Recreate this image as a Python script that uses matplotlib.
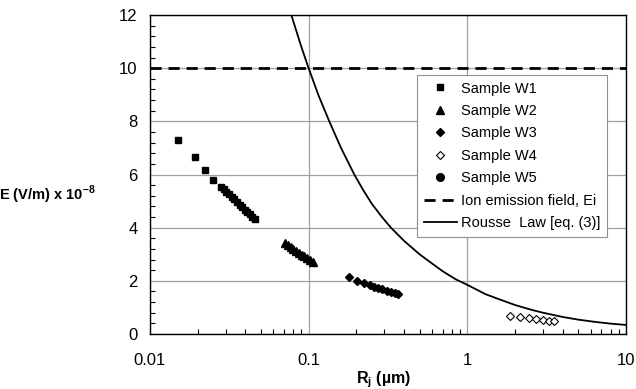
import matplotlib.pyplot as plt
from matplotlib.ticker import MultipleLocator, LogLocator, NullFormatter

plt.rcParams['font.family'] = ['Liberation Sans', 'DejaVu Sans']
plt.rcParams['mathtext.fontset'] = 'custom'
plt.rcParams['mathtext.bf'] = 'Liberation Sans:bold'
plt.rcParams['mathtext.rm'] = 'Liberation Sans'

# data (Rj in um, E in V/m x 1e-8)
w1_r = [0.0150, 0.0191, 0.0221, 0.0251, 0.0280, 0.0292, 0.0303, 0.0315, 0.0327, 0.0340,
        0.0353, 0.0367, 0.0380, 0.0395, 0.0410, 0.0425, 0.0440, 0.0457]
w1_e = [7.29, 6.64, 6.17, 5.79, 5.54, 5.44, 5.35, 5.25, 5.16, 5.06,
        4.97, 4.87, 4.78, 4.68, 4.59, 4.50, 4.40, 4.31]

w2_r = [0.0708, 0.0738, 0.0769, 0.0800, 0.0833, 0.0867, 0.0903, 0.0940, 0.0980, 0.1020, 0.1060]
w2_e = [3.41, 3.34, 3.27, 3.20, 3.13, 3.06, 2.99, 2.92, 2.85, 2.78, 2.71]

w3_r = [0.179, 0.202, 0.222, 0.242, 0.259, 0.275, 0.292, 0.312, 0.330, 0.350, 0.367]
w3_e = [2.13, 1.99, 1.90, 1.83, 1.78, 1.73, 1.68, 1.63, 1.58, 1.55, 1.51]

w4_r = [1.87, 2.16, 2.46, 2.73, 3.01, 3.27, 3.52]
w4_e = [0.68, 0.63, 0.59, 0.55, 0.53, 0.50, 0.49]

w5_r = []
w5_e = []

ion_field = 10

# Rousse law curve
law_r = [0.0778, 0.09, 0.1, 0.115, 0.135, 0.16, 0.194, 0.22, 0.25, 0.29, 0.33, 0.4, 0.5,
         0.6, 0.7, 0.85, 1.0, 1.3, 1.6, 2.0, 2.5, 3.0, 4.0, 5.0, 6.5, 8.0, 10.0]
law_e = [12.0, 10.8, 10.0, 9.0, 8.0, 7.0, 6.0, 5.43, 4.9, 4.4, 4.0, 3.5, 3.0,
         2.65, 2.36, 2.05, 1.85, 1.5, 1.3, 1.09, 0.92, 0.80, 0.64, 0.54, 0.45, 0.39, 0.34]

fig = plt.figure(figsize=(6.36, 3.89), dpi=100)
ax = fig.add_axes([0.2358, 0.1414, 0.7484, 0.82])

ax.plot(w1_r, w1_e, 's', color='black', markersize=5, label='Sample W1')
ax.plot(w2_r, w2_e, '^', color='black', markersize=5.5, label='Sample W2')
ax.plot(w3_r, w3_e, 'D', color='black', markersize=4.2, label='Sample W3')
ax.plot(w4_r, w4_e, 'D', color='black', markerfacecolor='white', markeredgewidth=0.8,
        markersize=4.2, label='Sample W4')
ax.plot(w5_r, w5_e, 'o', color='black', markersize=5.5, label='Sample W5')
ax.axhline(ion_field, color='black', lw=2, dashes=(4, 2.5), label='Ion emission field, Ei')
ax.plot(law_r, law_e, '-', color='black', lw=1.3, label='Rousse  Law [eq. (3)]')

ax.set_xscale('log')
ax.set_xlim(0.01, 10)
ax.set_ylim(0, 12)
ax.set_xticks([0.01, 0.1, 1, 10])
ax.set_xticklabels(['0.01', '0.1', '1', '10'])
ax.xaxis.set_minor_locator(LogLocator(base=10, subs=range(2, 10)))
ax.xaxis.set_minor_formatter(NullFormatter())
ax.yaxis.set_major_locator(MultipleLocator(2))
ax.yaxis.set_minor_locator(MultipleLocator(0.4))

ax.grid(True, which='major', color='#a0a0a0', lw=0.9)
ax.tick_params(which='major', length=0, labelsize=12)
ax.tick_params(axis='x', which='major', pad=14)
ax.tick_params(axis='y', which='major', pad=9)
ax.tick_params(which='minor', direction='in', length=3.5, width=0.8)
for s in ax.spines.values():
    s.set_linewidth(1)

ax.set_ylabel(r'E (V/m) x 10$^{\mathbf{-8}}$', fontsize=10.5, fontweight='bold',
              rotation=0, ha='right', va='center')
ax.yaxis.set_label_coords(-0.115, 0.436)
ax.set_xlabel(r'R$_{\mathbf{j}}$ (µm)', fontsize=11.5, fontweight='bold')
ax.xaxis.set_label_coords(0.49, -0.112)

leg = ax.legend(loc='upper left', bbox_to_anchor=(0.561, 0.812), borderaxespad=0,
                fontsize=10.5, frameon=True, fancybox=False, framealpha=1,
                edgecolor='#909090', handlelength=2.3, handletextpad=0.25,
                labelspacing=0.58, borderpad=0.45)
leg.get_frame().set_linewidth(0.8)

fig.savefig('out.png', dpi=100)
